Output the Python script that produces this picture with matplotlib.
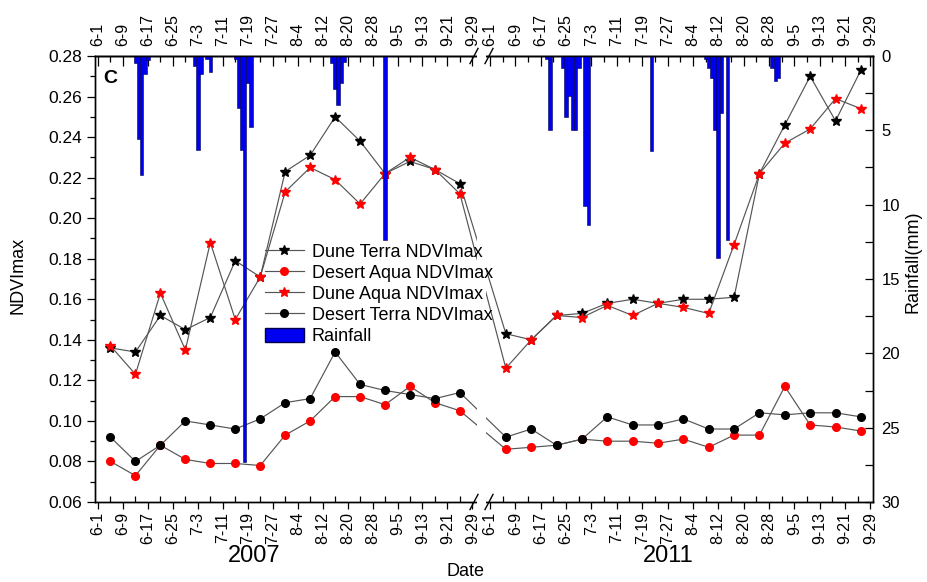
import numpy as np
import matplotlib
matplotlib.use('Agg')
import matplotlib.pyplot as plt
from matplotlib.patches import Patch, Rectangle
from matplotlib.lines import Line2D
from matplotlib.ticker import FormatStrFormatter, MultipleLocator

plt.rcParams['font.family'] = ['Liberation Sans', 'DejaVu Sans']

# 8-day composite dates, as days after 1 June
days_2007 = [4, 12, 20, 28, 36, 44, 52, 60, 68, 76, 84, 92, 100, 108, 116]
days_2011 = [5, 13, 21, 29, 37, 45, 53, 61, 69, 77, 85, 93, 101, 109, 117]

dune_terra_2007 = [0.136, 0.134, 0.152, 0.145, 0.151, 0.179, 0.171, 0.223, 0.231, 0.250, 0.238, 0.222, 0.228, 0.224, 0.217]
dune_terra_2011 = [0.143, 0.140, 0.152, 0.153, 0.158, 0.160, 0.158, 0.160, 0.160, 0.161, 0.222, 0.246, 0.270, 0.248, 0.273]
desert_aqua_2007 = [0.080, 0.073, 0.088, 0.081, 0.079, 0.079, 0.078, 0.093, 0.100, 0.112, 0.112, 0.108, 0.117, 0.109, 0.105]
desert_aqua_2011 = [0.086, 0.087, 0.088, 0.091, 0.090, 0.090, 0.089, 0.091, 0.087, 0.093, 0.093, 0.117, 0.098, 0.097, 0.095]
dune_aqua_2007 = [0.137, 0.123, 0.163, 0.135, 0.188, 0.150, 0.171, 0.213, 0.225, 0.219, 0.207, 0.222, 0.230, 0.224, 0.212]
dune_aqua_2011 = [0.126, 0.140, 0.152, 0.151, 0.157, 0.152, 0.158, 0.156, 0.153, 0.187, 0.222, 0.237, 0.244, 0.259, 0.254]
desert_terra_2007 = [0.092, 0.080, 0.088, 0.100, 0.098, 0.096, 0.101, 0.109, 0.111, 0.134, 0.118, 0.115, 0.113, 0.111, 0.114]
desert_terra_2011 = [0.092, 0.096, 0.088, 0.091, 0.102, 0.098, 0.098, 0.101, 0.096, 0.096, 0.104, 0.103, 0.104, 0.104, 0.102]

# daily rainfall (mm)
rain_days_2007 = [12, 13, 14, 15, 16, 31, 32, 33, 35, 36, 44, 45, 46, 47, 48, 49, 75, 76, 77, 78, 79, 92]
rain_mm_2007 = [0.5, 5.6, 8.0, 1.2, 0.3, 0.7, 6.3, 1.2, 0.2, 1.1, 0.2, 3.5, 6.3, 27.3, 1.8, 4.75,
                0.5, 2.2, 3.3, 1.8, 0.4, 12.4]
rain_days_2011 = [18, 19, 23, 24, 25, 26, 27, 28, 30, 31, 51, 68, 69, 70, 71, 72, 73, 75, 89, 90, 91]
rain_mm_2011 = [0.2, 5.0, 0.8, 4.1, 2.7, 5.0, 5.0, 0.8, 10.1, 11.4, 6.4, 0.2, 0.8, 1.5, 5.0, 13.6,
                3.85, 12.4, 0.8, 1.7, 1.5]

tick_days = [0, 8, 16, 24, 32, 40, 48, 56, 64, 72, 80, 88, 96, 104, 112, 120]
tick_labels = ['6-1', '6-9', '6-17', '6-25', '7-3', '7-11', '7-19', '7-27',
               '8-4', '8-12', '8-20', '8-28', '9-5', '9-13', '9-21', '9-29']

# broken date axis: each season gets its own linear segment
SEG = {2007: (98.0, 3.12), 2011: (490.0, 3.17)}


def xpos(year, days):
    start, scale = SEG[year]
    return start + scale * np.asarray(days, dtype=float)


fig = plt.figure(figsize=(9.28, 5.82), dpi=100)
ax = fig.add_axes([95 / 928, 80 / 582, 778 / 928, 446 / 582])
ax2 = ax.twinx()

x_all = np.concatenate([xpos(2007, days_2007), xpos(2011, days_2011)])
line_kw = dict(color='#555555', lw=0.85)
series = [
    ('Dune Terra NDVImax', dune_terra_2007 + dune_terra_2011, '*', 'black', 7.5),
    ('Desert Aqua NDVImax', desert_aqua_2007 + desert_aqua_2011, 'o', 'red', 5.5),
    ('Dune Aqua NDVImax', dune_aqua_2007 + dune_aqua_2011, '*', 'red', 7.5),
    ('Desert Terra NDVImax', desert_terra_2007 + desert_terra_2011, 'o', 'black', 5.5),
]
handles = []
for label, vals, mk, col, ms in series:
    ax.plot(x_all, vals, marker=mk, ms=ms, mfc=col, mec=col, **line_kw)
    handles.append(Line2D([], [], marker=mk, ms=ms, mfc=col, mec=col, label=label, **line_kw))

rain_color = '#0000f0'
for year, d, mm in [(2007, rain_days_2007, rain_mm_2007), (2011, rain_days_2011, rain_mm_2011)]:
    ax2.bar(xpos(year, d), mm, width=3.5, color=rain_color, edgecolor='#00004a', linewidth=0.4)
handles.append(Patch(facecolor=rain_color, edgecolor='#00004a', label='Rainfall'))

ax.set_xlim(95, 873)
ax.set_ylim(0.06, 0.28)
ax2.set_ylim(30, 0)

major_x = np.concatenate([xpos(2007, tick_days), xpos(2011, tick_days)])
minor_x = np.concatenate([xpos(2007, np.array(tick_days[:-1]) + 4), xpos(2011, np.array(tick_days[:-1]) + 4)])
ax.set_xticks(major_x, labels=tick_labels * 2, rotation=90, fontsize=11.5)
ax.set_xticks(minor_x, minor=True)
ax.tick_params(axis='x', which='major', direction='out', length=5, width=0.9, pad=2)
ax.tick_params(axis='x', which='minor', direction='in', length=4, width=0.9)

top = ax.secondary_xaxis('top')
top.set_xticks(major_x, labels=tick_labels * 2, rotation=90, fontsize=11.5)
top.set_xticks(minor_x, minor=True)
top.tick_params(axis='x', which='major', direction='in', length=7, width=0.9, pad=7)
top.tick_params(axis='x', which='minor', direction='in', length=4, width=0.9)

ax.yaxis.set_major_locator(MultipleLocator(0.02))
ax.yaxis.set_minor_locator(MultipleLocator(0.01))
ax.yaxis.set_major_formatter(FormatStrFormatter('%.2f'))
ax.tick_params(axis='y', which='major', direction='out', length=6, width=0.9, labelsize=12.5)
ax.tick_params(axis='y', which='minor', direction='out', length=3.5, width=0.9)

ax2.yaxis.set_major_locator(MultipleLocator(5))
ax2.yaxis.set_minor_locator(MultipleLocator(2.5))
ax2.tick_params(axis='y', which='both', direction='in', length=6, width=0.9, labelsize=12, pad=6)

for a in (ax, ax2):
    for s in a.spines.values():
        s.set_linewidth(1.0)
top.spines['top'].set_linewidth(1.0)

# axis break
bt = ax2.get_xaxis_transform()
ax2.add_patch(Rectangle((477.5, -0.015), 9, 1.03, transform=bt, facecolor='white',
                        edgecolor='none', clip_on=False, zorder=10))
for xb in (474, 489):
    for yb in (0.0, 1.0):
        ax2.plot([xb - 4, xb + 4], [yb - 0.017, yb + 0.017], transform=bt, color='black',
                 lw=1.0, clip_on=False, zorder=11)

leg = ax2.legend(handles=handles, loc='upper left', bbox_to_anchor=(0.218, 0.58), frameon=False,
                 fontsize=13, handlelength=2.2, handleheight=0.85, handletextpad=0.4,
                 labelspacing=0.2, borderaxespad=0, borderpad=0)
leg.set_zorder(12)

ax.text(0.011, 0.95, 'C', transform=ax.transAxes, fontsize=14, fontweight='bold', va='center')
fig.text(18 / 928, 1 - 275 / 582, 'NDVImax', rotation=90, ha='center', va='center', fontsize=13)
fig.text(913 / 928, 1 - 262 / 582, 'Rainfall(mm)', rotation=90, ha='center', va='center', fontsize=13)
fig.text(254 / 928, 1 - 556 / 582, '2007', ha='center', va='center', fontsize=17)
fig.text(668 / 928, 1 - 556 / 582, '2011', ha='center', va='center', fontsize=17)
fig.text(466 / 928, 1 - 572 / 582, 'Date', ha='center', va='center', fontsize=13)

fig.savefig('out.png', dpi=100)
